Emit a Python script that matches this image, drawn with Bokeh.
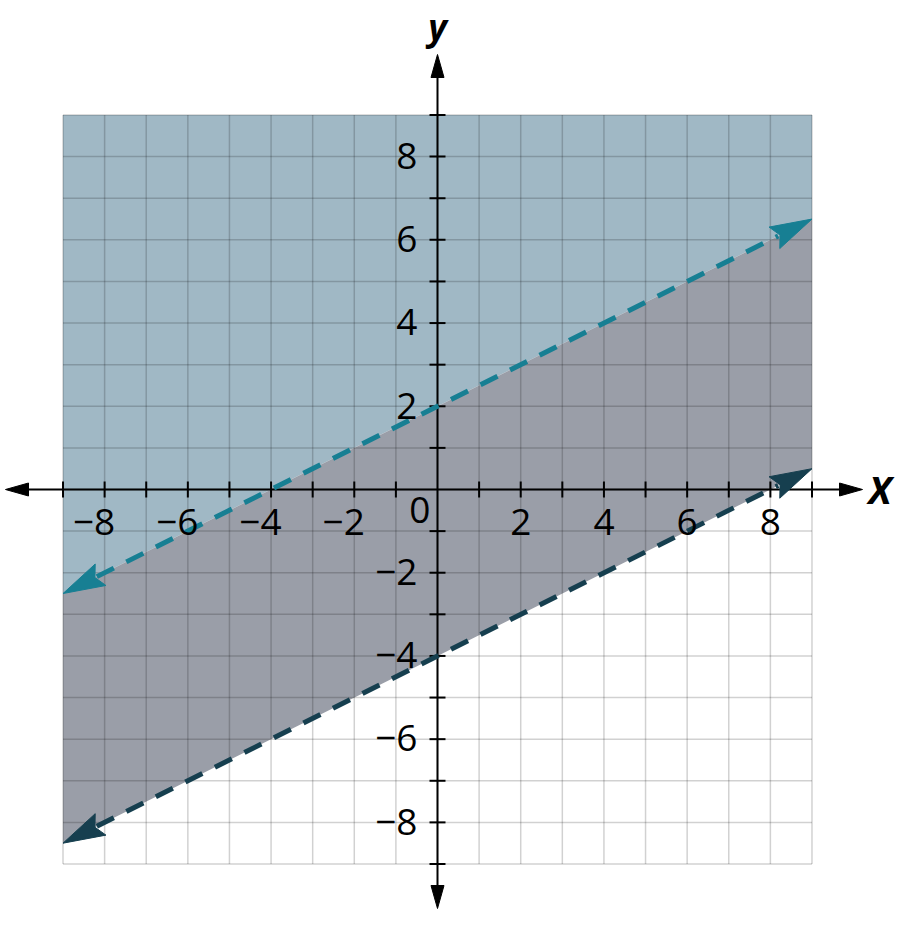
import numpy as np
from bokeh.plotting import figure
from bokeh.models import Range1d
from bokeh.core.properties import value
from bokeh.embed import file_html
from bokeh.resources import INLINE

# ---- data ----
grid_vals = list(range(-9, 10))
x_tick_labels = [-8, -6, -4, -2, 2, 4, 6, 8]
y_tick_labels = [-8, -6, -4, -2, 2, 4, 6, 8]
slope = 0.5
upper_intercept = 2
lower_intercept = -4
x_lim = [-9, 9]
y_lim = [-9, 9]

# ---- layout (pixels) ----
W, H = 895, 911
PPU = 41.61                      # pixels per unit
ox, oy = 437, 489                # origin inside the canvas
x0, x1 = -ox / PPU, (W - ox) / PPU
y0, y1 = -(H - oy) / PPU, oy / PPU
TS = 14                          # text baseline correction (px, upward)

p = figure(width=W, height=H, x_range=Range1d(x0, x1), y_range=Range1d(y0, y1),
           output_backend="svg", toolbar_location=None, min_border=0)
p.axis.visible = False
p.grid.visible = False
p.outline_line_color = None
p.background_fill_color = "white"

def line(x, b):
    return slope * np.asarray(x, dtype=float) + b

xs = np.array(x_lim, dtype=float)
TOP_C = "#a0b8c5"
MID_C = "#9a9ea8"
# shaded regions
p.varea(x=xs, y1=line(xs, upper_intercept), y2=[y_lim[1]] * 2, fill_color=TOP_C)
p.varea(x=xs, y1=line(xs, lower_intercept), y2=line(xs, upper_intercept), fill_color=MID_C)

# grid
gv = np.array(grid_vals, dtype=float)
p.segment(x0=gv, y0=[y_lim[0]] * len(gv), x1=gv, y1=[y_lim[1]] * len(gv),
          line_color="black", line_alpha=0.18, line_width=1.5)
p.segment(x0=[x_lim[0]] * len(gv), y0=gv, x1=[x_lim[1]] * len(gv), y1=gv,
          line_color="black", line_alpha=0.18, line_width=1.5)

# axes lines + arrowheads
AX_HEAD_L, AX_HEAD_W = 23 / PPU, 6.5 / PPU
ax_left, ax_right = (5 - ox) / PPU, (862 - ox) / PPU
ax_top, ax_bottom = (oy - 54) / PPU, -(908 - oy) / PPU
p.segment(x0=[ax_left + AX_HEAD_L, 0], y0=[0, ax_bottom + AX_HEAD_L],
          x1=[ax_right - AX_HEAD_L, 0], y1=[0, ax_top - AX_HEAD_L],
          line_color="black", line_width=2)
hx = [[ax_right, ax_right - AX_HEAD_L, ax_right - AX_HEAD_L],
      [ax_left, ax_left + AX_HEAD_L, ax_left + AX_HEAD_L],
      [0, -AX_HEAD_W, AX_HEAD_W],
      [0, -AX_HEAD_W, AX_HEAD_W]]
hy = [[0, AX_HEAD_W, -AX_HEAD_W],
      [0, AX_HEAD_W, -AX_HEAD_W],
      [ax_top, ax_top - AX_HEAD_L, ax_top - AX_HEAD_L],
      [ax_bottom, ax_bottom + AX_HEAD_L, ax_bottom + AX_HEAD_L]]
p.patches(xs=hx, ys=hy, fill_color="black", line_color="black", line_width=1)

# ticks
TL = 8 / PPU
tv = np.array([v for v in grid_vals if v != 0], dtype=float)
p.segment(x0=tv, y0=[-TL] * len(tv), x1=tv, y1=[TL] * len(tv), line_color="black", line_width=2)
p.segment(x0=[-TL] * len(tv), y0=tv, x1=[TL] * len(tv), y1=tv, line_color="black", line_width=2)

# dashed boundary lines with arrowheads
HEAD_L, HEAD_W = 42 / PPU, 12 / PPU
d = np.array([1.0, slope]); d /= np.linalg.norm(d)
n = np.array([-d[1], d[0]])
for b, col in [(upper_intercept, "#177f93"), (lower_intercept, "#163f4f")]:
    a = np.array([x_lim[0], line(x_lim[0], b)])
    e = np.array([x_lim[1], line(x_lim[1], b)])
    a2 = a + d * HEAD_L * 0.9
    e2 = e - d * HEAD_L * 0.9
    p.line(x=[a2[0], e2[0]], y=[a2[1], e2[1]], line_color=col, line_width=5,
           line_dash="19 14")
    heads_x, heads_y = [], []
    for tip, s in [(e, -1), (a, 1)]:
        base = tip + s * d * HEAD_L
        notch = tip + s * d * HEAD_L * 0.85
        c1 = base + n * HEAD_W
        c2 = base - n * HEAD_W
        heads_x.append([tip[0], c1[0], notch[0], c2[0]])
        heads_y.append([tip[1], c1[1], notch[1], c2[1]])
    p.patches(xs=heads_x, ys=heads_y, fill_color=col, line_color=col, line_width=1)

# tick labels
FS = "37px"
font = value("Open Sans")
xl = np.array(x_tick_labels, dtype=float)
p.text(x=xl + 10.6 / PPU, y=[-(46 - TS) / PPU] * len(xl),
       text=[str(v).replace("-", "\u2212") for v in x_tick_labels],
       text_align="right", text_baseline="alphabetic", text_font=font,
       text_font_size=FS, text_color="black")
yl = np.array(y_tick_labels, dtype=float)
p.text(x=[-20 / PPU] * len(yl), y=yl - (13.3 - TS) / PPU,
       text=[str(v).replace("-", "\u2212") for v in y_tick_labels],
       text_align="right", text_baseline="alphabetic", text_font=font,
       text_font_size=FS, text_color="black")
p.text(x=[-7 / PPU], y=[-(34 - TS) / PPU], text=["0"], text_align="right",
       text_baseline="alphabetic", text_font=font, text_font_size=FS, text_color="black")

# axis titles
p.text(x=[(891 - ox) / PPU], y=[-(13 - TS) / PPU], text=["X"], text_align="right",
       text_baseline="alphabetic", text_font=font, text_font_size="38px",
       text_font_style="bold italic", text_color="black")
p.text(x=[0], y=[(oy - 40 + TS) / PPU], text=["y"], text_align="center",
       text_baseline="alphabetic", text_font=font, text_font_size="36px",
       text_font_style="bold italic", text_color="black")

open("out.html", "w").write(file_html(p, INLINE))
